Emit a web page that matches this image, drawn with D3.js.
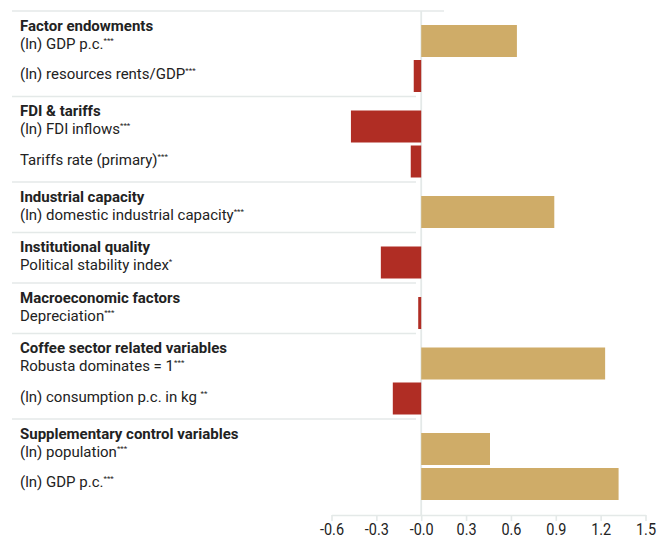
<!DOCTYPE html>
<html>
<head>
<meta charset="utf-8">
<script src="https://cdn.jsdelivr.net/npm/d3@7"></script>
<style>
  html, body { margin: 0; padding: 0; background: #fff; }
  svg { display: block; }
  .lbl { font-family: "Roboto", "Noto Sans", sans-serif; fill: #222; }
</style>
</head>
<body>
<svg id="chart" width="657" height="539"></svg>
<script>
// ---- data ----
const groups = ["Factor endowments", "FDI & tariffs", "Industrial capacity", "Institutional quality",
  "Macroeconomic factors", "Coffee sector related variables", "Supplementary control variables"];
const labels = ["(ln) GDP p.c.", "(ln) resources rents/GDP", "(ln) FDI inflows", "Tariffs rate (primary)",
  "(ln) domestic industrial capacity", "Political stability index", "Depreciation",
  "Robusta dominates = 1", "(ln) consumption p.c. in kg ", "(ln) population", "(ln) GDP p.c."];
const stars = ["***", "***", "***", "***", "***", "*", "***", "***", "**", "***", "***"];
const groupOf = [0, 0, 1, 1, 2, 3, 4, 5, 5, 6, 6];
const values = [0.64, -0.05, -0.47, -0.07, 0.89, -0.27, -0.02, 1.23, -0.19, 0.46, 1.32];
const tickValues = [-0.6, -0.3, 0, 0.3, 0.6, 0.9, 1.2, 1.5];
const tickLabels = ["-0.6", "-0.3", "-0.0", "0.3", "0.6", "0.9", "1.2", "1.5"];

// ---- layout ----
const svg = d3.select("#chart");
const gold = "#cfac68", red = "#b02d24", grid = "#e4e9e8";
const top0 = 23.5, groupGap = 15.5, axisY = 515;

const x = d3.scaleLinear().domain([-0.6, 1.5]).range([331.5, 645.5]);
const y = d3.scaleBand().domain(d3.range(labels.length)).range([0, 35 * labels.length])
  .paddingInner(3 / 35).paddingOuter(1.5 / 35);
const barTop = i => top0 + y(i) + groupOf[i] * groupGap;
const bw = y.bandwidth();

// group separators
const firstIdx = groups.map((g, k) => groupOf.indexOf(k));
svg.append("g").selectAll("line").data(groups).join("line")
  .attr("x1", 12)
  .attr("x2", (d, k) => k === 0 ? 444 : 416)
  .attr("y1", (d, k) => barTop(firstIdx[k]) - 14)
  .attr("y2", (d, k) => barTop(firstIdx[k]) - 14)
  .attr("stroke", grid).attr("stroke-width", 1.6);

// zero line
svg.append("line")
  .attr("x1", x(0)).attr("x2", x(0))
  .attr("y1", 11).attr("y2", axisY)
  .attr("stroke", grid).attr("stroke-width", 1.8);

// bars
svg.append("g").selectAll("rect").data(values).join("rect")
  .attr("x", d => x(Math.min(0, d)))
  .attr("width", d => Math.abs(x(d) - x(0)))
  .attr("y", (d, i) => barTop(i))
  .attr("height", bw)
  .attr("fill", d => d >= 0 ? gold : red);

// group headers
svg.append("g").selectAll("text").data(groups).join("text")
  .attr("class", "lbl")
  .attr("x", 20)
  .attr("y", (d, k) => barTop(firstIdx[k]) - 14 + 19.5)
  .attr("font-size", 15).attr("font-weight", "bold")
  .text(d => d);

// item labels
const itemText = svg.append("g").selectAll("text").data(labels).join("text")
  .attr("class", "lbl")
  .attr("x", 20)
  .attr("y", (d, i) => firstIdx.includes(i) ? barTop(i) - 14 + 37.5 : barTop(i) + bw / 2 + 3)
  .attr("font-size", 15);
itemText.append("tspan").text(d => d);
itemText.append("tspan").attr("font-size", 8).attr("dy", -6).text((d, i) => stars[i]);

// axis
const axis = svg.append("g").attr("transform", `translate(0,${axisY})`)
  .call(d3.axisBottom(x).tickValues(tickValues).tickFormat((d, i) => tickLabels[i])
    .tickSize(6).tickSizeOuter(0).tickPadding(2));
axis.select(".domain").attr("stroke", grid).attr("stroke-width", 1.6);
axis.selectAll(".tick line").attr("stroke", grid).attr("stroke-width", 1.6);
axis.selectAll(".tick text").attr("class", "lbl").attr("font-size", 17).attr("fill", "#333")
  .attr("transform", "scale(0.85,1)");
</script>
</body>
</html>
